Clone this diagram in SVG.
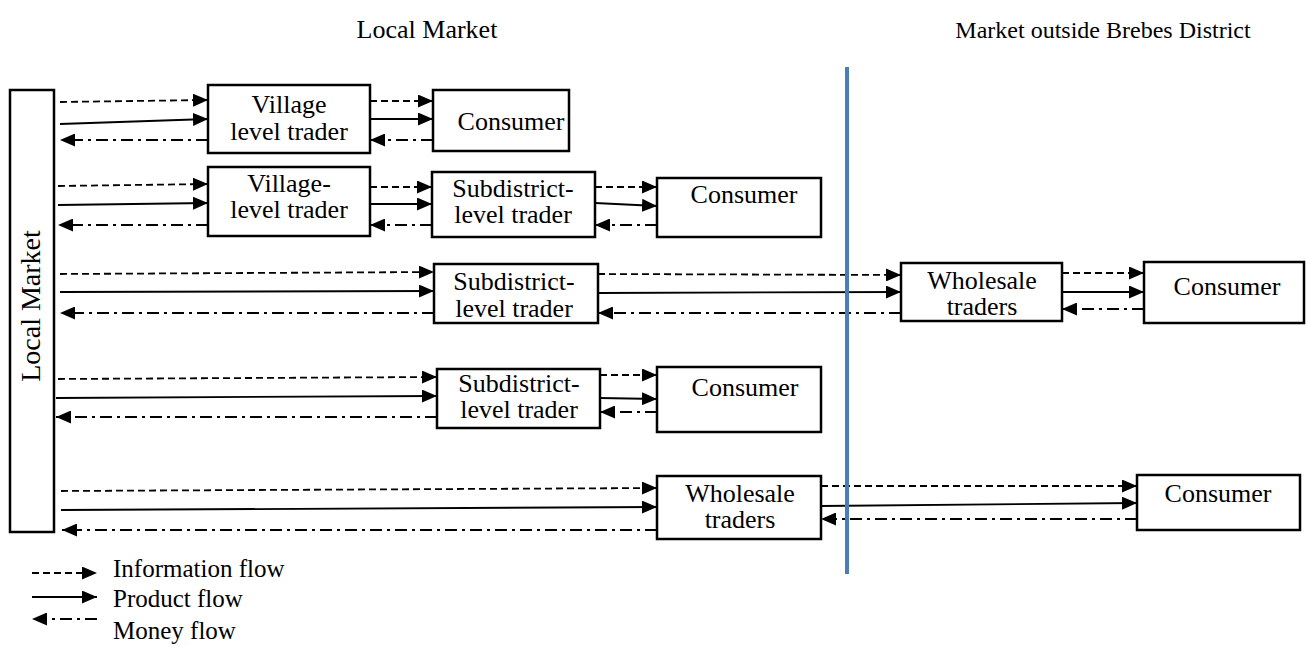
<svg xmlns="http://www.w3.org/2000/svg" width="1306" height="646" viewBox="0 0 1306 646">
<style>
  .box { fill: #fff; stroke: #000; stroke-width: 2.5; }
  .t { font-family: "Liberation Serif", "Times New Roman", serif; font-size: 26px; fill: #000; text-anchor: middle; }
  .lg { font-family: "Liberation Serif", "Times New Roman", serif; font-size: 25px; fill: #000; }
  .info { fill: none; stroke: #000; stroke-width: 1.8; stroke-dasharray: 7 4; marker-end: url(#ah); }
  .prod { fill: none; stroke: #000; stroke-width: 1.8; marker-end: url(#ah); }
  .money { fill: none; stroke: #000; stroke-width: 1.8; stroke-dasharray: 12 5 3 5; marker-end: url(#ah); }
</style>
<defs>
  <marker id="ah" markerUnits="userSpaceOnUse" markerWidth="15" markerHeight="13" refX="15" refY="6.5" orient="auto">
    <path d="M0,0 L15,6.5 L0,13 z" fill="#000" stroke="none"/>
  </marker>
</defs>
<rect width="1306" height="646" fill="#fff"/>

<g id="titles">
  <text class="t" x="427" y="38">Local Market</text>
  <text class="t" x="1103" y="38" style="font-size:24px">Market outside Brebes District</text>
</g>

<g id="local-market">
  <rect class="box" x="10" y="90" width="44" height="442"/>
  <text class="t" transform="translate(40,306) rotate(-90)" style="font-size:28px">Local Market</text>
</g>

<g id="village1">
  <rect class="box" x="208" y="85" width="162" height="68"/>
  <text class="t" x="289" y="113">Village</text>
  <text class="t" x="289" y="140">level trader</text>
</g>
<g id="consumer1">
  <rect class="box" x="433" y="90" width="136" height="61"/>
  <text class="t" x="511" y="130">Consumer</text>
</g>

<g id="village2">
  <rect class="box" x="208" y="167" width="162" height="69"/>
  <text class="t" x="289" y="192">Village-</text>
  <text class="t" x="289" y="218">level trader</text>
</g>
<g id="subdistrict2">
  <rect class="box" x="432" y="172" width="163" height="65"/>
  <text class="t" x="513" y="197">Subdistrict-</text>
  <text class="t" x="513" y="223">level trader</text>
</g>
<g id="consumer2">
  <rect class="box" x="657" y="178" width="164" height="59"/>
  <text class="t" x="744" y="203">Consumer</text>
</g>

<g id="subdistrict3">
  <rect class="box" x="434" y="264" width="164" height="59"/>
  <text class="t" x="514" y="290">Subdistrict-</text>
  <text class="t" x="514" y="317">level trader</text>
</g>
<g id="wholesale3">
  <rect class="box" x="901" y="263" width="161" height="58"/>
  <text class="t" x="982" y="289">Wholesale</text>
  <text class="t" x="982" y="315">traders</text>
</g>
<g id="consumer3">
  <rect class="box" x="1144" y="262" width="160" height="61"/>
  <text class="t" x="1227" y="295">Consumer</text>
</g>

<g id="subdistrict4">
  <rect class="box" x="437" y="369" width="163" height="59"/>
  <text class="t" x="519" y="392">Subdistrict-</text>
  <text class="t" x="519" y="418">level trader</text>
</g>
<g id="consumer4">
  <rect class="box" x="657" y="367" width="164" height="65"/>
  <text class="t" x="745" y="396">Consumer</text>
</g>

<g id="wholesale5">
  <rect class="box" x="657" y="476" width="164" height="63"/>
  <text class="t" x="740" y="502">Wholesale</text>
  <text class="t" x="740" y="528">traders</text>
</g>
<g id="consumer5">
  <rect class="box" x="1137" y="475" width="163" height="55"/>
  <text class="t" x="1218" y="502">Consumer</text>
</g>

<g id="connectors">
  <!-- row 1 -->
  <path class="info" d="M60,102 L208,100"/>
  <path class="prod" d="M60,124 L208,119"/>
  <path class="money" d="M208,140 L60,140"/>
  <path class="info" d="M370,101 L433,101"/>
  <path class="prod" d="M370,119 L433,119"/>
  <path class="money" d="M433,140 L370,140"/>
  <!-- row 2 -->
  <path class="info" d="M58,186 L208,184"/>
  <path class="prod" d="M58,205 L208,203"/>
  <path class="money" d="M208,225 L58,225"/>
  <path class="info" d="M370,187 L432,187"/>
  <path class="prod" d="M370,204 L432,204"/>
  <path class="money" d="M432,225 L370,225"/>
  <path class="info" d="M595,187 L657,187"/>
  <path class="prod" d="M595,203 L657,206"/>
  <path class="money" d="M657,225 L595,225"/>
  <!-- row 3 -->
  <path class="info" d="M60,274 L434,272"/>
  <path class="prod" d="M60,292 L434,291"/>
  <path class="money" d="M434,313 L60,313"/>
  <path class="info" d="M598,274 L901,275"/>
  <path class="prod" d="M598,293 L901,292"/>
  <path class="money" d="M901,313 L598,313"/>
  <path class="info" d="M1062,273 L1144,273"/>
  <path class="prod" d="M1062,292 L1144,292"/>
  <path class="money" d="M1144,309 L1062,309"/>
  <!-- row 4 -->
  <path class="info" d="M58,379 L437,377"/>
  <path class="prod" d="M56,398 L437,396"/>
  <path class="money" d="M437,417 L56,417"/>
  <path class="info" d="M600,375 L657,375"/>
  <path class="prod" d="M600,398 L657,399"/>
  <path class="money" d="M657,412 L600,412"/>
  <!-- row 5 -->
  <path class="info" d="M61,491 L657,488"/>
  <path class="prod" d="M61,510 L657,507"/>
  <path class="money" d="M657,530 L62,530"/>
  <path class="info" d="M821,486 L1137,486"/>
  <path class="prod" d="M821,506 L1137,503"/>
  <path class="money" d="M1137,519 L821,519"/>
</g>

<g id="divider">
  <line x1="847" y1="67" x2="847" y2="574" stroke="#4A7EBB" stroke-width="4"/>
</g>

<g id="legend">
  <path class="info" d="M32,573 L97,573"/>
  <text class="lg" x="113" y="577">Information flow</text>
  <path class="prod" d="M32,597 L97,597"/>
  <text class="lg" x="113" y="607">Product flow</text>
  <path class="money" d="M97,619 L32,619"/>
  <text class="lg" x="113" y="639">Money flow</text>
</g>
</svg>
